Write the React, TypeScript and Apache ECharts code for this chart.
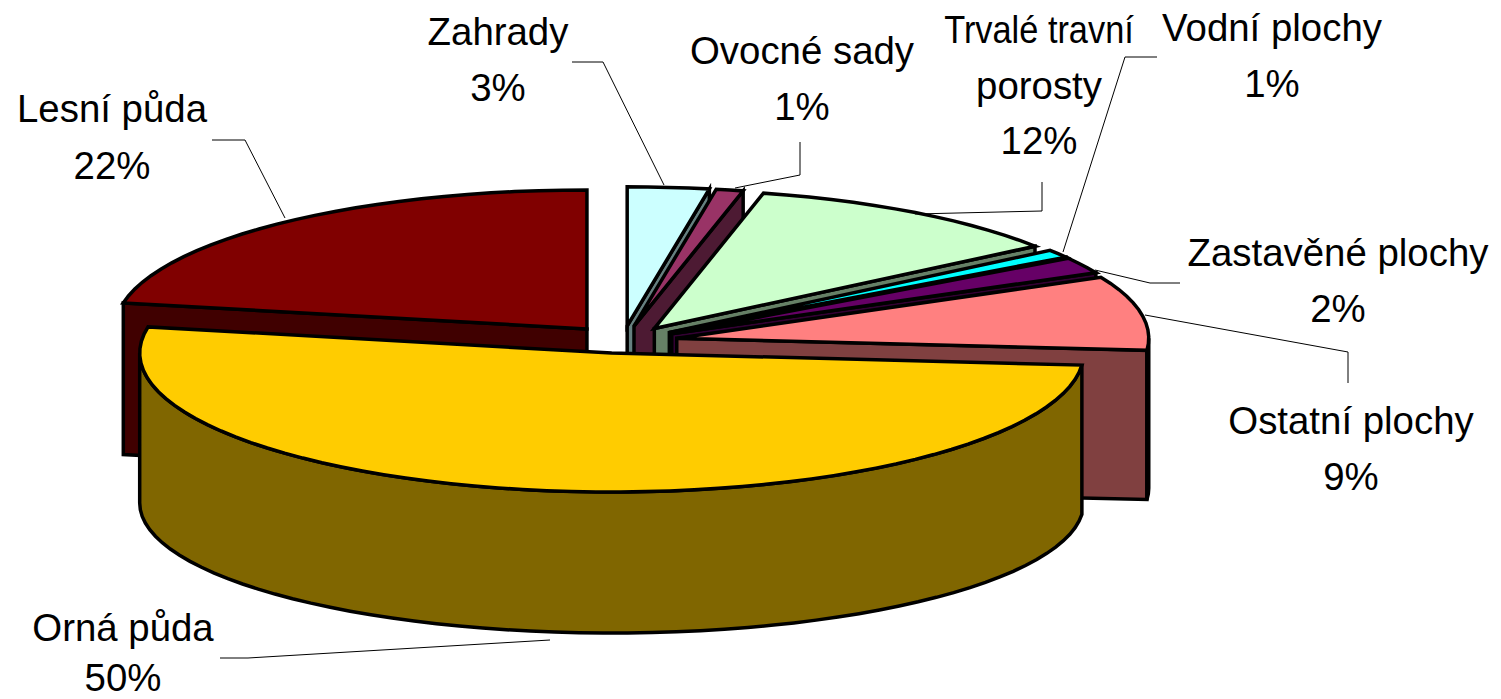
import React, { useEffect, useRef } from "react";
import * as echarts from "echarts";

// Data, clockwise from 12 o'clock
const categories = ["Zahrady", "Ovocné sady", "Trvalé travní\nporosty", "Vodní plochy", "Zastavěné plochy", "Ostatní plochy", "Orná půda", "Lesní půda"];
const percentages = [3, 1, 12, 1, 2, 9, 50, 22];
const topColors = ["#ccffff", "#993366", "#ccffcc", "#00ffff", "#660066", "#ff8080", "#ffcc00", "#800000"];
const sideColors = ["#668080", "#4d1a33", "#668066", "#008080", "#330033", "#804040", "#806600", "#400000"];
const paintOrder = [7, 0, 1, 2, 3, 4, 5, 6];

// Layout: x centre and y centre of each label's first line
const labelCenters = [[498, 31], [802, 50], [1039, 30], [1272, 27], [1338, 252], [1351, 420], [123, 627], [112, 108]];
const labelLineGaps = [56, 56, 55, 56, 56, 56, 50, 57];
const labelFirstLineScale = [1, 1, 0.895, 1, 1, 1, 1, 1];
const leaderLines = [
  [[572, 62], [603, 62], [664, 185]],
  [[800, 142], [800, 175], [735, 188]],
  [[1042, 182], [1042, 211], [915, 214]],
  [[1157, 57], [1125, 57], [1063, 252]],
  [[1180, 283], [1150, 283], [1095, 270]],
  [[1348, 383], [1348, 352], [1145, 315]],
  [[220, 658], [248, 658], [550, 640]],
  [[212, 140], [245, 140], [285, 218]],
];
const CX = 622, CY = 339.5, RX = 472, RY = 139, DEPTH = 150, BOTTOM_RY = 130;
const EXPLODE_X = 55, EXPLODE_Y = 13.7;
const FONT = '38.4px "Liberation Sans", Arial, sans-serif';

const rad = (d: number) => (d * Math.PI) / 180;
// The picture's perspective squeezes the right half of the disc slightly.
const warp = (d: number) => (d < 280.8 ? d - 6.4 * Math.sin(rad(d * 0.641)) : d);

const total = percentages.reduce((a, b) => a + b, 0);
const bounds: number[][] = [];
let running = 0;
percentages.forEach((v) => {
  bounds.push([(running / total) * 360, ((running + v) / total) * 360]);
  running += v;
});

function sliceShapes(i: number) {
  const [s0, e0] = bounds[i];
  const mid = rad((s0 + e0) / 2);
  const ax = CX + EXPLODE_X * Math.sin(mid);
  const ay = CY - EXPLODE_Y * Math.cos(mid);
  const s = warp(s0), e = warp(e0);
  const top = (d: number) => [ax + RX * Math.sin(rad(d)), ay - RY * Math.cos(rad(d))];
  const bot = (d: number) => [ax + RX * Math.sin(rad(d)), ay + DEPTH - BOTTOM_RY * Math.cos(rad(d))];
  const apexBottom = [ax, ay + DEPTH];
  const steps = (a: number, b: number) => {
    const n = Math.max(2, Math.ceil((b - a) / 3));
    return Array.from({ length: n + 1 }, (_, k) => a + ((b - a) * k) / n);
  };
  const poly = (points: number[][], fill: string) => ({
    type: "polygon",
    shape: { points },
    style: { fill, stroke: "#000", lineWidth: 3.5, lineJoin: "miter" },
  });
  const children: any[] = [];
  // radial walls facing the viewer
  if (s > 180 && s < 360) children.push(poly([[ax, ay], top(s), bot(s), apexBottom], sideColors[i]));
  if (e > 0 && e < 180) children.push(poly([[ax, ay], top(e), bot(e), apexBottom], sideColors[i]));
  // outer rim wall on the near half
  const a = Math.max(s, 90), b = Math.min(e, 270);
  if (b > a) {
    const arc = steps(a, b);
    children.push(poly([...arc.map(top), ...arc.slice().reverse().map(bot)], sideColors[i]));
  }
  // top face
  children.push(poly([[ax, ay], ...steps(s, e).map(top)], topColors[i]));
  return children;
}

export default function App() {
  const ref = useRef<HTMLDivElement>(null);
  useEffect(() => {
    const chart = echarts.init(ref.current!, undefined, { renderer: "svg" });
    chart.setOption({
      animation: false,
      backgroundColor: "#ffffff",
      series: [
        {
          type: "custom",
          coordinateSystem: "none",
          silent: true,
          data: paintOrder.map((i) => [i, percentages[i]]),
          renderItem: (_p: any, api: any) => ({ type: "group", children: sliceShapes(api.value(0)) }),
        },
        {
          type: "custom",
          coordinateSystem: "none",
          silent: true,
          z: 3,
          data: categories.map((_, i) => [i, percentages[i]]),
          renderItem: (_p: any, api: any) => {
            const i = api.value(0);
            const lines = `${categories[i]}\n${api.value(1)}%`.split("\n");
            return {
              type: "group",
              children: [
                {
                  type: "polyline",
                  shape: { points: leaderLines[i] },
                  style: { fill: "none", stroke: "#000", lineWidth: 1 },
                },
                ...lines.map((line, k) => ({
                  type: "text",
                  x: labelCenters[i][0],
                  y: labelCenters[i][1] + k * labelLineGaps[i],
                  scaleX: k === 0 ? labelFirstLineScale[i] : 1,
                  style: {
                    text: line,
                    font: FONT,
                    fill: "#000",
                    align: "center",
                    verticalAlign: "middle",
                  },
                })),
              ],
            };
          },
        },
      ],
    });
    return () => chart.dispose();
  }, []);
  return <div ref={ref} style={{ position: "absolute", left: 0, top: 0, width: 1501, height: 699 }} />;
}
